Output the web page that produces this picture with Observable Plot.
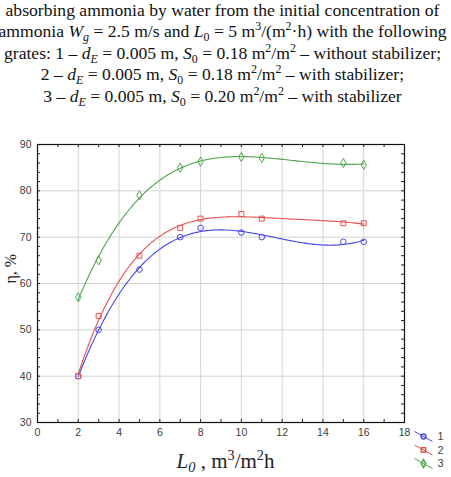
<!DOCTYPE html>
<html>
<head>
<meta charset="utf-8">
<script src="https://cdn.jsdelivr.net/npm/d3@7"></script>
<script src="https://cdn.jsdelivr.net/npm/@observablehq/plot@0.6"></script>
<style>
  body { margin: 0; background: #fff; }
  #page { position: relative; width: 451px; height: 477px; overflow: hidden; background: #fff; }
  .title { height: 110px; padding-right: 6px; box-sizing: border-box; font-family: "Liberation Serif", "Times New Roman", serif; font-size: 17.6px; color: #111; }
  .title .ln { display: flex; justify-content: center; white-space: nowrap; height: 21.4px; line-height: 21.4px; }
  sub, sup { font-size: 0.68em; line-height: 0; }
  sub { vertical-align: -0.3em; }
  sup { vertical-align: 0.55em; }
  i { font-style: italic; }
  #xlabel { position: absolute; left: 0; width: 451px; top: 447px; text-align: center; font-family: "Liberation Serif", "Times New Roman", serif; font-size: 21px; color: #222; line-height: 28px; }
  #legend { position: absolute; left: 410px; top: 424px; }
</style>
</head>
<body>
<div id="page">
  <div class="title">
    <div class="ln"><span>absorbing ammonia by water from the initial concentration of</span></div>
    <div class="ln"><span>ammonia <i>W</i><sub><i>g</i></sub> = 2.5 m/s and <i>L</i><sub>0</sub> = 5 m<sup>3</sup>/(m<sup>2</sup>·h) with the following</span></div>
    <div class="ln"><span>grates: 1 – <i>d</i><sub><i>E</i></sub> = 0.005 m, <i>S</i><sub>0</sub> = 0.18 m<sup>2</sup>/m<sup>2</sup> – without stabilizer;</span></div>
    <div class="ln"><span>2 – <i>d</i><sub><i>E</i></sub> = 0.005 m, <i>S</i><sub>0</sub> = 0.18 m<sup>2</sup>/m<sup>2</sup> – with stabilizer;</span></div>
    <div class="ln"><span>3 – <i>d</i><sub><i>E</i></sub> = 0.005 m, <i>S</i><sub>0</sub> = 0.20 m<sup>2</sup>/m<sup>2</sup> – with stabilizer</span></div>
  </div>
  <div id="chart"></div>
  <div id="xlabel"><i>L<sub>0</sub></i> , m<sup>3</sup>/m<sup>2</sup>h</div>
  <div id="legend"></div>
</div>
<script>
// Liquid flow rate L0, m³/(m²·h)
const L0 = [2, 3, 5, 7, 8, 10, 11, 15, 16];
// Absorption efficiency η, % for each grate
const eta1 = [40, 50, 63, 70, 72, 71, 70, 69, 69];      // 1 – without stabilizer
const eta2 = [40, 53, 66, 72, 74, 75, 74, 73, 73];      // 2 – with stabilizer
const eta3 = [57, 65, 79, 85, 86.3, 87.3, 87.1, 86, 85.6]; // 3 – S0 = 0.20, with stabilizer
const seriesNames = ["1", "2", "3"];
const seriesColors = ["#4646e8", "#e85050", "#4ea64e"];
const seriesSymbols = ["circle", "square", "diamond"];

// Axis ticks
const xTicks = d3.range(0, 19, 2);
const yTicks = d3.range(30, 91, 10);
const xMinor = d3.range(0, 19, 1);
const yMinor = d3.range(30, 91, 2);

// Least-squares polynomial smoothing of each series
function polyfit(xs, ys, deg) {
  const t = xs.map(v => (v - 9) / 7);
  const n = deg + 1;
  const A = Array.from({length: n}, () => new Array(n + 1).fill(0));
  for (let k = 0; k < t.length; k++) {
    for (let i = 0; i < n; i++) {
      for (let j = 0; j < n; j++) A[i][j] += Math.pow(t[k], i + j);
      A[i][n] += ys[k] * Math.pow(t[k], i);
    }
  }
  for (let c = 0; c < n; c++) {
    let p = c;
    for (let r = c + 1; r < n; r++) if (Math.abs(A[r][c]) > Math.abs(A[p][c])) p = r;
    [A[c], A[p]] = [A[p], A[c]];
    for (let r = 0; r < n; r++) {
      if (r === c) continue;
      const f = A[r][c] / A[c][c];
      for (let j = c; j <= n; j++) A[r][j] -= f * A[c][j];
    }
  }
  const coef = A.map((row, i) => row[n] / row[i]);
  return v => { const tt = (v - 9) / 7; return coef.reduce((s, c, i) => s + c * Math.pow(tt, i), 0); };
}

const points = [];
const curves = [];
const xs = d3.range(2, 16.0001, 0.1);
[eta1, eta2, eta3].forEach((ys, si) => {
  L0.forEach((x, i) => points.push({series: seriesNames[si], x, y: ys[i]}));
  const f = polyfit(L0, ys, 4);
  xs.forEach(x => curves.push({series: seriesNames[si], x, y: f(x)}));
});

const colorScale = {domain: seriesNames, range: seriesColors};
const symbolScale = {domain: seriesNames, range: seriesSymbols};

const innerW = 451 - 37 - 47;
const innerH = 335 - 34 - 23;

const chart = Plot.plot({
  width: 451,
  height: 335,
  marginLeft: 37,
  marginRight: 47,
  marginTop: 34,
  marginBottom: 23,
  x: {domain: [0, 18]},
  y: {domain: [30, 90]},
  color: colorScale,
  symbol: symbolScale,
  style: {fontFamily: "'Liberation Sans', Arial, sans-serif", fontSize: "10.5px", color: "#3a3a3a", background: "#fff"},
  marks: [
    Plot.gridX(xTicks.slice(1, -1), {stroke: "#d4d4d4", strokeOpacity: 1}),
    Plot.gridY(yTicks.slice(1, -1), {stroke: "#d4d4d4", strokeOpacity: 1}),
    // inward ticks on all four sides
    Plot.tickX(xMinor, {x: d => d, insetTop: innerH - 3, stroke: "#222"}),
    Plot.tickX(xMinor, {x: d => d, insetBottom: innerH - 3, stroke: "#222"}),
    Plot.tickY(yMinor, {y: d => d, insetRight: innerW - 3, stroke: "#222"}),
    Plot.tickY(yMinor, {y: d => d, insetLeft: innerW - 3, stroke: "#222"}),
    Plot.axisX({ticks: xTicks, tickSize: 0, tickPadding: 6, label: null}),
    Plot.axisY({ticks: yTicks, tickSize: 0, tickPadding: 6, label: null}),
    Plot.frame({stroke: "#111", strokeWidth: 1.2}),
    Plot.line(curves, {x: "x", y: "y", z: "series", stroke: "series", strokeWidth: 1.1}),
    Plot.dot(points, {x: "x", y: "y", stroke: "series", symbol: "series", r: 2.8, fill: "none", strokeWidth: 1}),
    Plot.text(["η, %"], {frameAnchor: "left", rotate: -90, dx: -27, fontFamily: "'Liberation Serif', 'Times New Roman', serif", fontSize: 16, fill: "#222"})
  ]
});
document.getElementById("chart").appendChild(chart);

// Legend: slanted line sample with symbol and series number
const legendItems = seriesNames.map((name, i) => ({name, i}));
const legend = Plot.plot({
  width: 41,
  height: 50,
  margin: 0,
  x: {domain: [0, 1], range: [4, 22]},
  y: {domain: [0, 2], range: [12, 39]},
  color: colorScale,
  symbol: symbolScale,
  axis: null,
  style: {background: "transparent", overflow: "visible"},
  marks: [
    Plot.link(legendItems, {x1: () => 0, x2: () => 1, y1: d => d.i - 0.37, y2: d => d.i + 0.37, stroke: "name", strokeWidth: 1}),
    Plot.dot(legendItems, {x: () => 0.5, y: "i", stroke: "name", symbol: "name", r: 2.4, fill: "none"}),
    Plot.text(legendItems, {x: () => 1, y: "i", text: "name", dx: 5, textAnchor: "start", fontFamily: "'Liberation Sans', Arial, sans-serif", fontSize: 11, fill: "#444"})
  ]
});
document.getElementById("legend").appendChild(legend);
</script>
</body>
</html>
